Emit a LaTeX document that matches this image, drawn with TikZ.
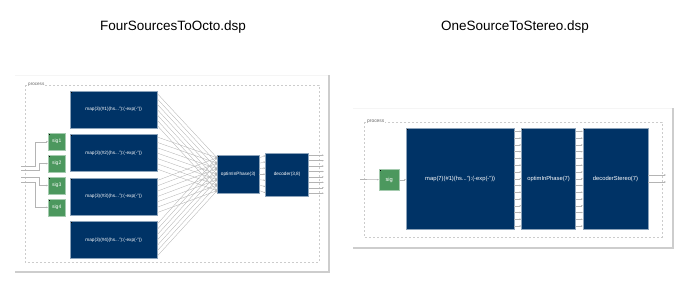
\documentclass[tikz,border=0pt]{standalone}
\usepackage{fontspec}
\setmainfont{Liberation Sans}
\usetikzlibrary{arrows.meta,positioning,calc}
\definecolor{dspnavy}  {RGB}{0, 51,102}
\definecolor{dspgreen} {RGB}{76,152, 94}
\definecolor{wiregray} {RGB}{180,180,180}
\definecolor{framegray}{RGB}{205,205,205}
\tikzset{
  blk/.style={draw=dspnavy!45!white,fill=dspnavy,line width=0.4pt,
              inner sep=0pt,anchor=north west,text=white,
              font=\fontsize{4.7}{5.5}\selectfont,
              path picture={\fill[black] (path picture bounding box.north west)
                            rectangle ++(1.6pt,-1.6pt);}},
  blkbig/.style={blk,font=\fontsize{5.8}{7}\selectfont},
  sigbox/.style={blk,draw=dspgreen!50!white,fill=dspgreen,
                 minimum width=17pt,minimum height=17pt,
                 font=\fontsize{5}{6}\selectfont},
  wire/.style={draw=wiregray,line width=0.35pt,
               -{Stealth[length=2pt,width=1.6pt]}},
  procbox/.style={draw=gray!40,line width=0.4pt,dash pattern=on 2pt off 2pt},
  proclbl/.style={fill=white,inner sep=1pt,anchor=west,text=gray!80!black,
                  font=\fontsize{4.6}{5}\selectfont},
  frame/.style={draw=framegray,line width=1.2pt},
  ttl/.style={font=\fontsize{13.5}{16}\selectfont},
}

\begin{document}
\begin{tikzpicture}[x=1pt,y=-1pt]
  \useasboundingbox (0,0) rectangle (694,308);

  % titles
  \node[ttl](TFOUR) at (173,27) {FourSourcesToOcto.dsp};
  \node[ttl](TONE)  at (515,27) {OneSourceToStereo.dsp};

  % left panel
  \draw[gray!8] (15,75) -- (329,75);
  \draw[frame] (329,75) -- (329,272) -- (15,272);
  \draw[procbox] (25,85) rectangle (319,262);
  \node[proclbl] (FPROC) at (27,85) {process};

  \node[blk,minimum width=87pt,minimum height=37pt] (FM1) at (70,91)
       {map(3)(\#1)(hs..."):(-exp(-"))};
  \node[blk,minimum width=87pt,minimum height=37pt,below=6pt of FM1] (FM2)
       {map(3)(\#2)(hs..."):(-exp(-"))};
  \node[blk,minimum width=87pt,minimum height=37pt,below=6pt of FM2] (FM3)
       {map(3)(\#3)(hs..."):(-exp(-"))};
  \node[blk,minimum width=87pt,minimum height=37pt,below=6pt of FM3] (FM4)
       {map(3)(\#4)(hs..."):(-exp(-"))};

  \node[sigbox] (FS1) at (48,133) {sig1};
  \node[sigbox,below=4.5pt of FS1] (FS2) {sig2};
  \node[sigbox,below=4.5pt of FS2] (FS3) {sig3};
  \node[sigbox,below=4.5pt of FS3] (FS4) {sig4};

  \node[blk,minimum width=42pt,minimum height=38pt] (FOPT) at (217,155)
       {optimInPhase(3)};
  \node[blk,minimum width=43pt,minimum height=43pt,right=6pt of FOPT] (FDEC)
       {decoder(3,8)};

  % inputs
  \coordinate (IN1) at (21,166);
  \coordinate (IN2) at (21,170);
  \coordinate (IN3) at (21,177);
  \coordinate (IN4) at (21,182);
  \draw[wire] (IN1) -| ([xshift=-13pt]FS1.west) -- (FS1);
  \draw[wire] (IN2) -| ([xshift=-9pt]FS2.west) -- (FS2);
  \draw[wire] (IN3) -| ([xshift=-9pt]FS3.west) -- (FS3);
  \draw[wire] (IN4) -| ([xshift=-13pt]FS4.west) -- (FS4);

  % map -> optim
  \foreach \m in {1,...,4}{
    \foreach \i in {1,...,7}{
      \draw[wire] ($(FM\m.north east)!{(\i-0.5)/7}!(FM\m.south east)$)
               -- ($(FOPT.north west)!{(\i-0.5)/7}!(FOPT.south west)$);
    }
  }
  % optim -> decoder
  \foreach \i in {1,...,7}{
    \draw[wire] ($(FOPT.north east)!{(\i-0.5)/7}!(FOPT.south east)$)
             -- ($(FDEC.north west)!{(\i-0.5)/7}!(FDEC.south west)$);
  }
  % outputs
  \foreach \i in {1,...,8}{
    \coordinate (FOUT\i) at ($(FDEC.north east)!{(\i-0.5)/8}!(FDEC.south east)+(15,0)$);
    \draw[wire] ($(FDEC.north east)!{(\i-0.5)/8}!(FDEC.south east)$) -- (FOUT\i);
  }

  % right panel
  \draw[gray!8] (353,108) -- (673,108);
  \draw[frame] (673,108) -- (673,248) -- (353,248);
  \draw[procbox] (364,122) rectangle (662,237);
  \node[proclbl,font=\fontsize{4.9}{5.5}\selectfont] (SPROC) at (366,122) {process};

  \node[sigbox,minimum width=20pt,minimum height=21pt,
        font=\fontsize{5.7}{6.5}\selectfont] (SSIG) at (379,169) {sig};
  \node[blkbig,minimum width=108pt,minimum height=101pt] (SMAP) at (406,128)
       {map(7)(\#1)(hs..."):(-exp(-"))};
  \node[blkbig,minimum width=54pt,minimum height=101pt,right=7pt of SMAP] (SOPT)
       {optimInPhase(7)};
  \node[blkbig,minimum width=65pt,minimum height=101pt,right=7pt of SOPT] (SDEC)
       {decoderStereo(7)};

  \coordinate (SIN) at (360,179.5);
  \draw[wire,line width=0.6pt] (SIN) -- (SSIG);
  \draw[wire] (SSIG.east) -- (SSIG.east-|SMAP.west);
  \foreach \i in {1,...,15}{
    \draw[wire] ($(SMAP.north east)!{(\i-0.5)/15}!(SMAP.south east)$)
             -- ($(SOPT.north west)!{(\i-0.5)/15}!(SOPT.south west)$);
    \draw[wire] ($(SOPT.north east)!{(\i-0.5)/15}!(SOPT.south east)$)
             -- ($(SDEC.north west)!{(\i-0.5)/15}!(SDEC.south west)$);
  }
  \coordinate (SOUT1) at (666,175);
  \coordinate (SOUT2) at (666,182);
  \draw[wire] (SDEC.east|-SOUT1) -- (SOUT1);
  \draw[wire] (SDEC.east|-SOUT2) -- (SOUT2);
\end{tikzpicture}
\end{document}
